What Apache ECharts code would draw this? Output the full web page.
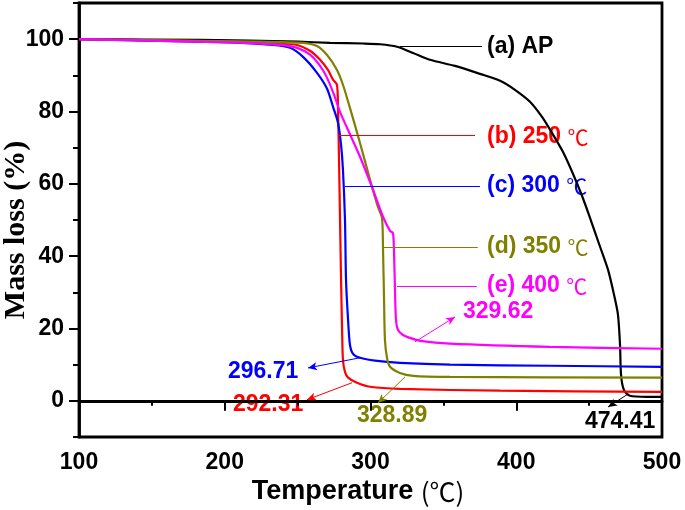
<!DOCTYPE html>
<html><head><meta charset="utf-8">
<script src="https://cdn.jsdelivr.net/npm/echarts@6/dist/echarts.min.js"></script>
<style>html,body{margin:0;padding:0;background:#fff}#c{width:685px;height:510px}</style>
</head><body><div id="c"></div>
<script>
// ---- data ----
const tempA = [100,183,250,272.2,295,306.5,318.2,329.2,340.8,358,375.1,388.9,399.1,409.4,417.7,424.5,432.1,438.9,445.1,450.6,457.5,463,467.1,469.8,471.2,471.9,473.9,478,489.7,500];
const massA = [100,99.8,99.3,99.0,98.8,98.6,97.9,96.2,94.3,92.6,90.4,88.5,86.0,82.7,78.5,74.1,68.8,62.8,56.7,50.6,42.6,36.2,29.3,23.8,15.5,7.2,3.0,1.4,1.1,1.1];

const tempB = [100,203.6,237.9,249.6,258.5,265.4,270.8,274.3,277,277.7,278.4,279.1,279.8,280.5,281.1,282.5,284.6,290.7,299.7,320.2,388.9,500];
const massB = [100,99.3,98.7,98.4,96.8,94.3,91.5,88.8,87.4,80.5,66.6,50.0,33.5,19.6,11.3,8.0,6.4,5.0,3.9,3.3,2.8,2.5];

const tempC = [100,203.6,233.1,244.8,253.7,263.3,270.2,274.3,277.7,279.8,281.1,282.5,283.2,284.6,285.9,288,292.8,303.1,320.2,354.5,423.2,500];
const massC = [100,99.1,98.4,97.6,95.1,90.7,86.3,81.3,76.9,70.8,63.9,50.0,33.5,22.4,15.5,13.0,11.9,11.1,10.5,10.0,9.7,9.4];

const tempD = [100,224.2,253.7,263.3,270.2,277,281.1,285.9,292.8,299.7,305.1,307.9,308.6,309.3,309.9,311.3,313.4,320.2,329.2,354.5,500];
const massD = [100,99.3,99.0,98.1,95.6,91.5,87.4,81.0,71.3,61.1,53.6,50.6,41.7,27.9,16.9,11.9,9.4,7.7,6.9,6.6,6.4];

const tempE = [100,203.6,237.9,249.6,258.5,265.4,270.2,275,279.1,283.9,292.8,301.7,308.6,313.4,315.4,316.1,316.8,317.5,318.9,322.3,327.1,334,354.5,423.2,500];
const massE = [100,99.1,98.4,97.6,95.7,92.6,89.3,84.6,79.9,75.5,67.5,58.4,50.9,47.0,46.4,41.7,30.7,22.4,19.6,18.2,17.4,16.6,15.8,14.9,14.4];

const xTickValues = [100,200,300,400,500];
const yTickValues = [0,20,40,60,80,100];

const seriesLabels = ['(a) AP','(b) 250 ','(c) 300 ','(d) 350 ','(e) 400 '];
const unitLabel = ['', '℃','℃','℃','℃'];
// leader lines: [tStart, tEnd, mass]
const leaders = [[320.2,376.5,98.1],[277.7,371.7,73.3],[282.5,375.1,59.4],[308.6,373.6,42.6],[318.2,373,31.8]];
// onset annotations: arrow [tFrom, mFrom, tTo, mTo], text
const onsetText = ['474.41','292.31','296.71','328.89','329.62'];
const arrows = [[476.0,1.7,463.0,-1.7],[287.3,5.0,256.4,0.3],[292.8,11.9,257.1,9.1],[323.7,6.6,305.1,-0.6],[330.5,16.3,358.0,23.2]];

const colors = ['#000000','#ff0000','#0000ff','#808000','#ff00ff'];
const temps = [tempA,tempB,tempC,tempD,tempE];
const masses = [massA,massB,massC,massD,massE];

// ---- layout ----
const G = {left:79, right:23, top:3, bottom:73};
const pxPerUnit = (510 - G.top - G.bottom) / 120;
const off = 10 * pxPerUnit;
const font = '"Liberation Sans", Arial, sans-serif';

const labelPos = [[487,47],[487,137],[487,186],[487,247],[487,286]];
const onsetPos = [[585,422],[233,405],[228,372],[357,416],[463,312]];

const series = temps.map((t,i)=>({
  type:'line', xAxisIndex:0, yAxisIndex:0, showSymbol:false, animation:false,
  smooth:0.25,
  data: t.map((x,k)=>[x, masses[i][k]]),
  lineStyle:{color:colors[i], width:2.2}, itemStyle:{color:colors[i]},
  markLine:{silent:true, animation:false, symbol:['none','none'], label:{show:false},
    lineStyle:{color:colors[i], width:1, type:'solid'},
    data:[
      [{coord:[leaders[i][0],leaders[i][2]]},{coord:[leaders[i][1],leaders[i][2]]}],
      [{coord:[arrows[i][0],arrows[i][1]], symbol:'none'},{coord:[arrows[i][2],arrows[i][3]], symbol:'arrow', symbolSize:[6,9]}]
    ]}
}));

const graphics = [];
labelPos.forEach((p,i)=>{
  graphics.push({type:'text', x:p[0], y:p[1], silent:true, style:{
    text:'{b|'+seriesLabels[i]+'}' + (unitLabel[i] ? '{u|'+unitLabel[i]+'}' : ''),
    verticalAlign:'middle', align:'left',
    rich:{b:{font:'bold 23px '+font, fill:colors[i]}, u:{font:'normal 21px "Noto Sans CJK SC", sans-serif', fill:colors[i]}}
  }});
});
onsetPos.forEach((p,i)=>{
  graphics.push({type:'text', x:p[0], y:p[1], silent:true, style:{
    text:onsetText[i], font:'bold 23px '+font, fill:colors[i], verticalAlign:'middle', align:'left'}});
});
graphics.push({type:'text', x:358, y:492, silent:true, style:{
  text:'{b|Temperature }{u|(℃)}', align:'center', verticalAlign:'middle',
  rich:{b:{font:'bold 27px '+font, fill:'#000'}, u:{font:'normal 26px "Noto Sans CJK SC", sans-serif', fill:'#000'}}}});
graphics.push({type:'text', x:16, y:230, rotation:Math.PI/2, silent:true, style:{
  text:'Mass loss (%)', align:'center', verticalAlign:'middle',
  font:'bold 30px "Liberation Serif", "Times New Roman", serif', fill:'#000'}});

const chart = echarts.init(document.getElementById('c'), null, {renderer:'canvas'});
chart.setOption({
  backgroundColor:'#fff',
  animation:false,
  grid:[
    {left:G.left, right:G.right, top:G.top, bottom:G.bottom, show:true, borderColor:'#000', borderWidth:2.8, backgroundColor:'transparent'},
    {left:G.left, right:G.right, top:G.top+off, bottom:G.bottom+off, show:false}
  ],
  xAxis:[
    {type:'value', gridIndex:0, min:xTickValues[0], max:xTickValues[xTickValues.length-1], interval:100,
     axisLine:{lineStyle:{color:'#000', width:2.8}},
     axisTick:{inside:false, length:10, lineStyle:{color:'#000', width:2}},
     minorTick:{show:true, splitNumber:2, length:5, lineStyle:{color:'#000', width:2}},
     axisLabel:{color:'#000', fontSize:23, fontWeight:'bold', fontFamily:font, margin:14},
     splitLine:{show:false}, minorSplitLine:{show:false}},
    {type:'value', gridIndex:1, min:100, max:500, show:false}
  ],
  yAxis:[
    {type:'value', gridIndex:0, min:-10, max:110, interval:10,
     axisLine:{show:true, lineStyle:{color:'#000', width:2.8}},
     axisTick:{show:true, inside:false, length:6, lineStyle:{color:'#000', width:2}},
     axisLabel:{show:false}, splitLine:{show:false}},
    {type:'value', gridIndex:1, min:yTickValues[0], max:yTickValues[yTickValues.length-1], interval:20,
     axisLine:{show:false},
     axisTick:{show:true, inside:false, length:10, lineStyle:{color:'#000', width:2}},
     axisLabel:{color:'#000', fontSize:23, fontWeight:'bold', fontFamily:font, margin:15},
     splitLine:{show:false}}
  ],
  series: series,
  graphic: graphics
});
</script></body></html>
